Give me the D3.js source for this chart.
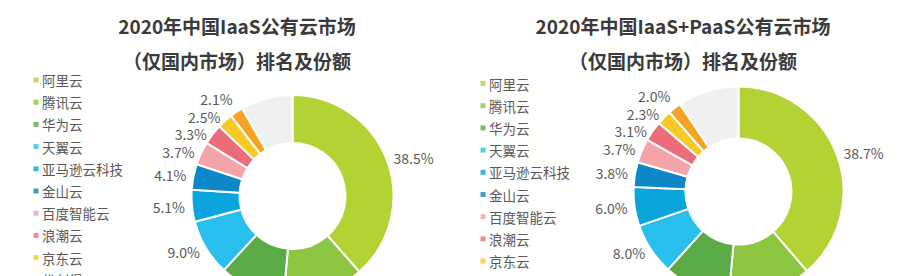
<!DOCTYPE html>
<html>
<head>
<meta charset="utf-8">
<script src="https://cdn.jsdelivr.net/npm/d3@7"></script>
<style>
  body { margin: 0; background: #fff; }
  svg { display: block; }
  text { font-family: "Noto Sans CJK SC", "Noto Sans", sans-serif; }
</style>
</head>
<body>
<div id="chart"></div>
<script>
const companies = ['阿里云', '腾讯云', '华为云', '天翼云', '亚马逊云科技', '金山云', '百度智能云', '浪潮云', '京东云', '优刻得', '其他'];
const iaasShare = [38.5, 12.9, 10.5, 9.0, 5.1, 4.1, 3.7, 3.3, 2.5, 2.1, 8.3];
const iaasPaasShare = [38.7, 12.8, 10.2, 8.0, 6.0, 3.8, 3.7, 3.1, 2.3, 2.0, 9.4];
const titlesLeft = ['2020年中国IaaS公有云市场', '（仅国内市场）排名及份额'];
const titlesRight = ['2020年中国IaaS+PaaS公有云市场', '（仅国内市场）排名及份额'];

const colors = ['#b3d234', '#8cc540', '#5aab45', '#29bfec', '#0aa5dd', '#0d87c5',
                '#f4a3aa', '#eb6d79', '#f8c824', '#f4a322', '#f0f0f0'];

const width = 901, height = 276;

const svg = d3.select('#chart')
    .append('svg')
    .attr('width', width)
    .attr('height', height);

const color = d3.scaleOrdinal().domain(companies).range(colors);

function drawPanel(opts) {
    const g = svg.append('g');

    // title
    g.selectAll('.title')
        .data(opts.titles)
        .enter().append('text')
        .attr('x', opts.titleX)
        .attr('y', (d, i) => 25 + i * 35)
        .attr('text-anchor', 'middle')
        .attr('dominant-baseline', 'central')
        .attr('font-size', 19)
        .attr('font-weight', 700)
        .attr('fill', '#3a3a3a')
        .text(d => d);

    // legend (no entry for "其他")
    const legend = g.selectAll('.legend')
        .data(companies.slice(0, 10))
        .enter().append('g')
        .attr('transform', (d, i) => `translate(${opts.legendX}, ${opts.legendY + i * 22.2})`);

    legend.append('rect')
        .attr('x', -2.5)
        .attr('y', -2.5)
        .attr('width', 5)
        .attr('height', 5)
        .attr('fill', d => color(d))
        .attr('opacity', 0.8);

    legend.append('text')
        .attr('x', 6)
        .attr('dominant-baseline', 'central')
        .attr('font-size', 13.5)
        .attr('fill', '#595959')
        .text(d => d);

    // donut
    const pie = d3.pie().sort(null).value(d => d.value);
    const arcs = pie(opts.values.map((v, i) => ({ name: companies[i], value: v })));

    const arc = d3.arc().innerRadius(opts.inner).outerRadius(opts.outer);

    const donut = g.append('g')
        .attr('transform', `translate(${opts.cx}, ${opts.cy})`);

    donut.selectAll('path')
        .data(arcs)
        .enter().append('path')
        .attr('d', arc)
        .attr('fill', d => color(d.data.name))
        .attr('stroke', '#fff')
        .attr('stroke-width', 2);

    // labels outside the ring, spread apart so they do not overlap
    const labelR = opts.outer + 7;
    const labels = arcs.filter(d => d.data.name !== '其他').map(d => {
        const a = (d.startAngle + d.endAngle) / 2;
        return {
            d: d,
            x: labelR * Math.sin(a),
            y: -labelR * Math.cos(a),
            left: Math.sin(a) < 0
        };
    });

    const minGap = 17.5;
    const leftSide = labels.filter(l => l.left).sort((a, b) => a.y - b.y);
    for (let iter = 0; iter < 40; iter++) {
        for (let i = 1; i < leftSide.length; i++) {
            const gap = leftSide[i].y - leftSide[i - 1].y;
            if (gap < minGap) {
                const push = (minGap - gap) / 2;
                leftSide[i].y += push;
                leftSide[i - 1].y -= push;
            }
        }
    }

    donut.selectAll('.label')
        .data(labels)
        .enter().append('text')
        .attr('x', l => l.x)
        .attr('y', l => l.y)
        .attr('text-anchor', l => l.left ? 'end' : 'start')
        .attr('dominant-baseline', 'central')
        .attr('font-size', 14)
        .attr('fill', '#595959')
        .text(l => l.d.data.value.toFixed(1) + '%');
}

drawPanel({
    titles: titlesLeft, titleX: 237,
    legendX: 36, legendY: 80,
    values: iaasShare,
    cx: 292.5, cy: 196, outer: 101, inner: 53
});

drawPanel({
    titles: titlesRight, titleX: 683,
    legendX: 483, legendY: 83.5,
    values: iaasPaasShare,
    cx: 738.5, cy: 191.5, outer: 105, inner: 53
});
</script>
</body>
</html>
